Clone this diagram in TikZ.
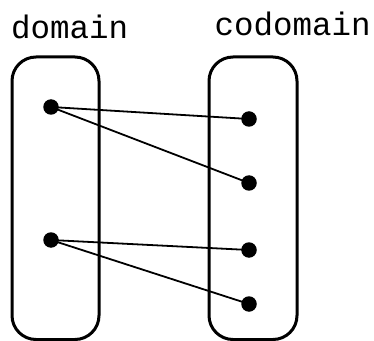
\documentclass[tikz,border=0pt]{standalone}
\usepackage{fontspec}
\setmonofont{Liberation Mono}
\begin{document}
\begin{tikzpicture}[x=1pt,y=1pt,
  setbox/.style={draw, line width=3pt, rounded corners=24pt},
  elem/.style={circle, fill=black, inner sep=0pt, minimum size=15.5pt},
  maplink/.style={line width=1.8pt},
  lbl/.style={inner sep=0pt, anchor=base west, font=\ttfamily\fontsize{32.5}{38}\selectfont}]
\useasboundingbox (0,0) rectangle (374,340);
\draw[setbox] (12,0.5) rectangle (99,283);
\draw[setbox] (209,0.5) rectangle (297,283);
\node[lbl] (dlabel) at (11,301) {domain};
\node[lbl] (clabel) at (214.5,304) {codomain};
\node[elem] (a1) at (51,233) {};
\node[elem] (a2) at (51,100) {};
\node[elem] (b1) at (249,221) {};
\node[elem] (b2) at (249,157) {};
\node[elem] (b3) at (249,90) {};
\node[elem] (b4) at (249,36) {};
\draw[maplink] (a1.center) -- (b1.center);
\draw[maplink] (a1.center) -- (b2.center);
\draw[maplink] (a2.center) -- (b3.center);
\draw[maplink] (a2.center) -- (b4.center);
\end{tikzpicture}
\end{document}
